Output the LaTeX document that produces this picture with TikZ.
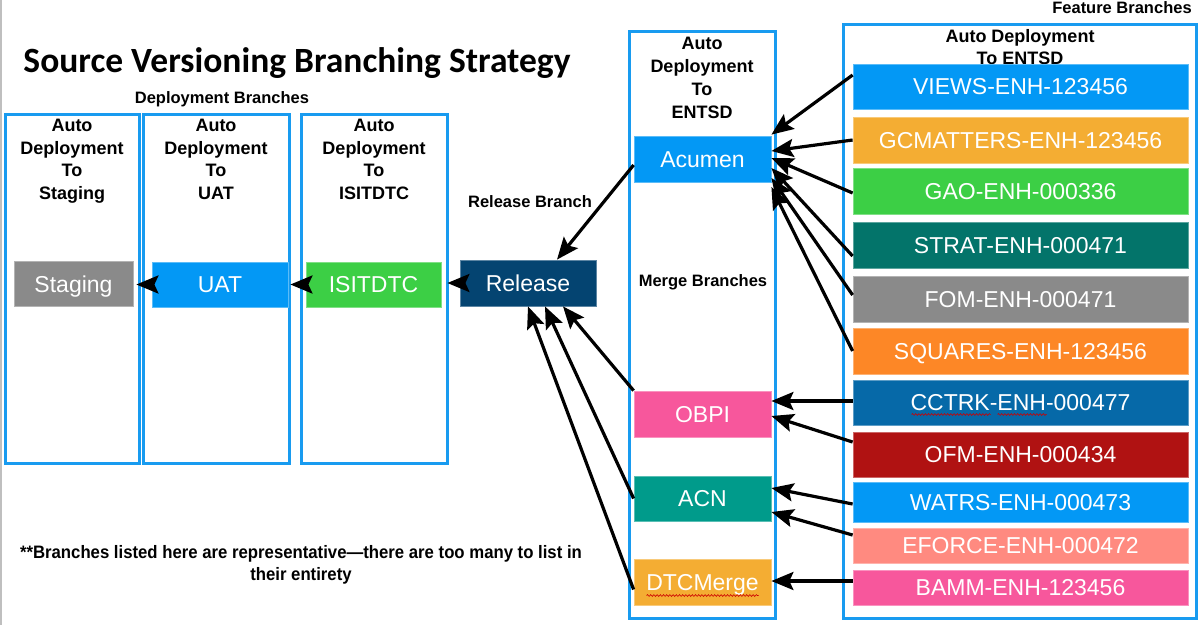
\documentclass[tikz,border=0pt]{standalone}
\usepackage{fontspec}
\setmainfont{Liberation Sans}
\newfontfamily\titlefont{Carlito}
\newfontfamily\narrowfont{Liberation Sans}[FakeStretch=0.93]
\usetikzlibrary{arrows.meta,decorations.pathmorphing,calc}
\definecolor{boxblue}{RGB}{24,155,240}
\definecolor{cblue}{RGB}{3,152,245}
\definecolor{cgray}{RGB}{138,138,138}
\definecolor{cgreen}{RGB}{60,207,69}
\definecolor{crelease}{RGB}{4,68,113}
\definecolor{cpink}{RGB}{247,87,156}
\definecolor{cteal}{RGB}{0,155,139}
\definecolor{corange}{RGB}{244,173,51}
\definecolor{cdteal}{RGB}{3,116,106}
\definecolor{csquares}{RGB}{253,135,38}
\definecolor{ccctrk}{RGB}{6,105,168}
\definecolor{cofm}{RGB}{176,18,18}
\definecolor{csalmon}{RGB}{255,138,128}
\tikzset{
  arrhead/.tip={Stealth[length=22pt,width=18pt,inset=4pt]}
}
\begin{document}
\begin{tikzpicture}[x=1pt,y=-1pt,
  col/.style={draw=boxblue, line width=3pt},
  br/.style={fill=#1, draw=#1!65!white, line width=0.8pt, text=white,
    font=\fontsize{23}{27}\selectfont, inner sep=0pt, anchor=center,
    text height=16.4pt, text depth=0pt},
  mb/.style={br=#1, minimum width=137, minimum height=46},
  fb/.style={br=#1, minimum width=335, minimum height=46},
  header/.style={font=\bfseries\fontsize{18}{22.5}\selectfont, align=center, inner sep=0pt, anchor=north},
  lbl/.style={font=\bfseries\fontsize{16.5}{20}\selectfont, inner sep=0pt, anchor=base},
  arr/.style={line width=3.2pt, -arrhead},
  squig/.style={draw=red!80!black, line width=0.6pt, decorate,
    decoration={snake, segment length=3.2pt, amplitude=0.9pt}}
]
\useasboundingbox (0,0) rectangle (1204,625);
\fill[white] (0,0) rectangle (1204,625);
\draw[black!25, line width=1.5pt] (0.75,0) -- (0.75,625);

% title and labels
\node[font=\titlefont\bfseries\fontsize{35.5}{40}\selectfont, anchor=base, inner sep=0pt] (title) at (297,72) {Source Versioning Branching Strategy};
\node[lbl] (deplbl) at (222,103) {Deployment Branches};
\node[lbl] (rellbl) at (530,207) {Release Branch};
\node[lbl] (mrglbl) at (703,286) {Merge Branches};
\node[lbl] (featlbl) at (1122,13) {Feature Branches};

% column frames
\draw[col] (5,114) rectangle (139,463);
\draw[col] (143,114) rectangle (289,463);
\draw[col] (301,114) rectangle (447,463);
\draw[col] (629,31) rectangle (775,618);
\draw[col] (843,24) rectangle (1196,618);

% headers
\node[header] (h1) at (72,119) {Auto\\Deployment\\To\\Staging};
\node[header] (h2) at (216,119) {Auto\\Deployment\\To\\UAT};
\node[header] (h3) at (374,119) {Auto\\Deployment\\To\\ISITDTC};
\node[header, font=\bfseries\fontsize{18}{23}\selectfont] (h4) at (702,37) {Auto\\Deployment\\To\\ENTSD};
\node[header, font=\bfseries\fontsize{18}{22}\selectfont] (h5) at (1020,29) {Auto Deployment\\To ENTSD};

% deployment branches
\node[br=cgray, minimum width=119, minimum height=45] (staging) at (73.5,284) {Staging};
\node[br=cblue, minimum width=136, minimum height=45] (uat) at (220,284.5) {UAT};
\node[br=cgreen, minimum width=135, minimum height=45] (isitdtc) at (373.5,284.5) {ISITDTC};
\node[br=crelease, minimum width=136, minimum height=46] (release) at (528,283) {Release};

% merge branches
\node[mb=cblue] (acumen) at (702.5,159) {Acumen};
\node[mb=cpink] (obpi) at (702.5,414) {OBPI};
\node[mb=cteal, minimum height=45] (acn) at (702.5,498.5) {ACN};
\node[mb=corange] (dtcmerge) at (702.5,582.5) {DTCMerge};

% feature branches
\node[fb=cblue, minimum height=45] (views) at (1020.5,86.5) {VIEWS-ENH-123456};
\node[fb=corange] (gcm) at (1020.5,140) {GCMATTERS-ENH-123456};
\node[fb=cgreen] (gao) at (1020.5,191) {GAO-ENH-000336};
\node[fb=cdteal] (strat) at (1020.5,245) {STRAT-ENH-000471};
\node[fb=cgray] (fom) at (1020.5,299) {FOM-ENH-000471};
\node[fb=csquares] (squares) at (1020.5,351) {SQUARES-ENH-123456};
\node[fb=ccctrk, minimum height=45] (cctrk) at (1020.5,402.5) {CCTRK-ENH-000477};
\node[fb=cofm, minimum height=45] (ofm) at (1020.5,454.5) {OFM-ENH-000434};
\node[fb=cblue, minimum height=40] (watrs) at (1020.5,502.5) {WATRS-ENH-000473};
\node[fb=csalmon, minimum height=35] (eforce) at (1020.5,545.5) {EFORCE-ENH-000472};
\node[fb=cpink, minimum height=35] (bamm) at (1020.5,587.5) {BAMM-ENH-123456};

% spell-check squiggles
\draw[squig] ([xshift=-109,yshift=-12]cctrk.center) -- ++(79,0);
\draw[squig] ([xshift=-23,yshift=-12]cctrk.center) -- ++(49,0);
\draw[squig] ([xshift=-56,yshift=-13]dtcmerge.center) -- ++(112,0);

% deployment chain
\draw[arr, shorten >=6pt] (release.west) -- (release.west -| isitdtc.east);
\draw[arr, shorten >=2pt] (isitdtc.west) -- (isitdtc.west -| uat.east);
\draw[arr, shorten >=3pt] (uat.west) -- (uat.west -| staging.east);

% merge to release
\draw[arr] ([yshift=-6]acumen.west) -- ([xshift=29]release.north);
\draw[arr] (obpi.north west) -- ([xshift=35]release.south);
\draw[arr] (acn.west) -- ([xshift=17]release.south);
\draw[arr] ([yshift=-7]dtcmerge.west) -- (release.south);

% features to acumen
\draw[arr] ([yshift=11.5]views.west) -- ([yshift=1]acumen.north east);
\draw[arr] (gcm.west) -- ([yshift=8]acumen.east);
\draw[arr] ([yshift=-2]gao.west) -- ([yshift=1]acumen.east);
\draw[arr] ([yshift=-11]strat.west) -- ([yshift=-9]acumen.east);
\draw[arr] ([yshift=4]fom.west) -- ([yshift=-19]acumen.east);
\draw[arr] (squares.west) -- ([yshift=-28]acumen.east);

% features to merge branches
\draw[arr] ([yshift=1.5]cctrk.west) -- ([yshift=13]obpi.east);
\draw[arr] ([yshift=12.5]ofm.west) -- ([yshift=-2]obpi.east);
\draw[arr] ([yshift=-1.5]watrs.west) -- ([yshift=10.5]acn.east);
\draw[arr] ([yshift=10.5]eforce.west) -- ([yshift=-13.5]acn.east);
\draw[arr] ([yshift=6.5]bamm.west) -- ([yshift=1.5]dtcmerge.east);

% footnote
\node[font=\narrowfont\bfseries\fontsize{18}{22}\selectfont, align=center, anchor=north, inner sep=0pt] (note) at (301,545) {**Branches listed here are representative\textemdash there are too many to list in\\their entirety};
\end{tikzpicture}
\end{document}
